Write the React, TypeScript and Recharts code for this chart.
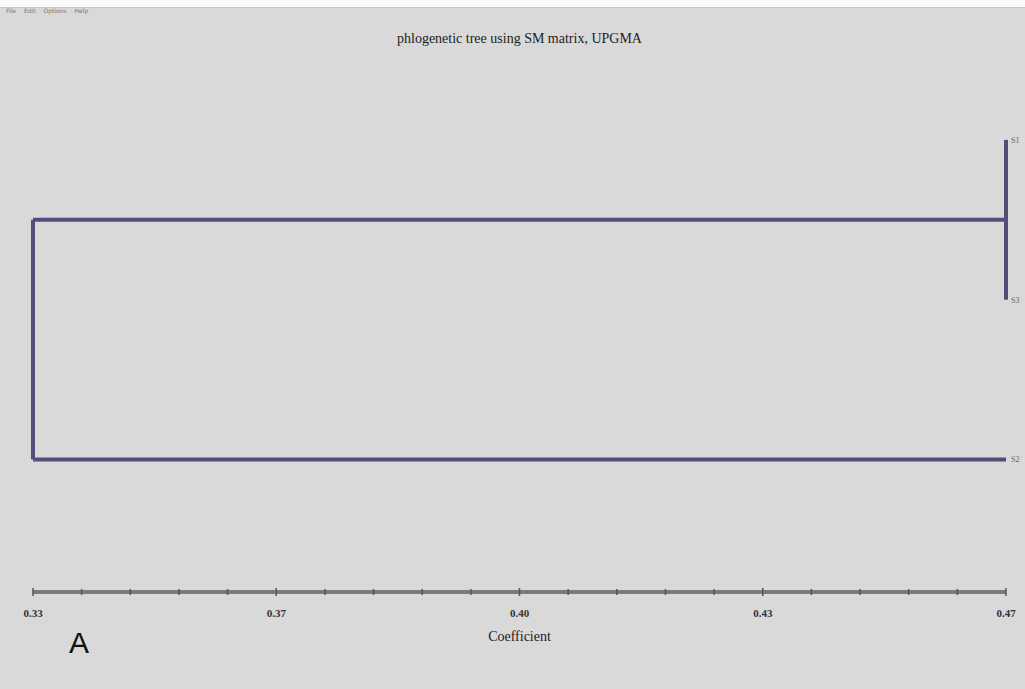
import {
  ComposedChart,
  Line,
  Scatter,
  XAxis,
  YAxis,
  Label,
} from 'recharts'

// leaves, top to bottom, and where each sits on the coefficient axis
const leafNames = ['S1', 'S3', 'S2']
const leafRows = [1, 2, 3]
const leafCoef = 0.47

// merges: (S1,S3) at 0.47, then with S2 at 0.33
const cladeCoef = 0.47
const rootCoef = 0.33

const majorTicks = [0.33, 0.365, 0.4, 0.435, 0.47]
const majorLabels = ['0.33', '0.37', '0.40', '0.43', '0.47']

const minorTicks = Array.from({ length: 21 }, (_, i) => +(0.33 + i * 0.007).toFixed(3))

const cladeMid = (leafRows[0] + leafRows[1]) / 2

const cladeVertical = [
  { x: cladeCoef, y: leafRows[0] },
  { x: cladeCoef, y: leafRows[1] },
]
const cladeStem = [
  { x: cladeCoef, y: cladeMid },
  { x: rootCoef, y: cladeMid },
]
const s2Stem = [
  { x: leafCoef, y: leafRows[2] },
  { x: rootCoef, y: leafRows[2] },
]
const rootVertical = [
  { x: rootCoef, y: cladeMid },
  { x: rootCoef, y: leafRows[2] },
]
const leafPoints = leafNames.map((name, i) => ({ x: leafCoef, y: leafRows[i], name }))

const branchColor = '#574b7d'

function AxisTick(props: any) {
  const { x, y, payload } = props
  const idx = majorTicks.findIndex((t) => Math.abs(t - payload.value) < 1e-6)
  const major = idx >= 0
  return (
    <g>
      <line x1={x} x2={x} y1={y - (major ? 4 : 3)} y2={y + (major ? 4 : 3)} stroke="#555" strokeWidth={1.5} />
      {major && (
        <text
          x={x}
          y={y + 25}
          textAnchor="middle"
          fontFamily="'Liberation Serif', serif"
          fontSize={11}
          fontWeight="bold"
          fill="#333"
        >
          {majorLabels[idx]}
        </text>
      )}
    </g>
  )
}

function LeafLabel(props: any) {
  const { cx, cy, payload } = props
  return (
    <text
      x={cx + 5}
      y={cy + 3}
      fontFamily="'Liberation Serif', serif"
      fontSize={8}
      fill="#666"
    >
      {payload.name}
    </text>
  )
}

export default function App() {
  return (
    <div
      style={{
        position: 'fixed',
        left: 0,
        top: 0,
        width: 1025,
        height: 689,
        background: '#d9d9d9',
        overflow: 'hidden',
      }}
    >
      <div style={{ position: 'absolute', left: 0, top: 0, width: 1025, height: 7, background: '#fafafa', borderBottom: '1px solid #c8c8c8' }} />
      <div
        style={{
          position: 'absolute',
          left: 6,
          top: 7,
          fontFamily: "'DejaVu Sans', sans-serif",
          fontSize: 6,
          color: '#777',
          wordSpacing: 6,
        }}
      >
        File Edit Options Help
      </div>
      <div
        style={{
          position: 'absolute',
          left: 0,
          width: 1025,
          top: 31,
          textAlign: 'center',
          fontFamily: "'Liberation Serif', serif",
          fontSize: 14,
          color: '#222',
          paddingLeft: 14,
          boxSizing: 'border-box',
        }}
      >
        phlogenetic tree using SM matrix, UPGMA
      </div>
      <div
        style={{
          position: 'absolute',
          left: 69,
          top: 626,
          fontFamily: "'Liberation Sans', Arial, sans-serif",
          fontSize: 30,
          color: '#111',
        }}
      >
        A
      </div>
      <ComposedChart
        width={1025}
        height={689}
        margin={{ top: 60, right: 19, left: 33, bottom: 47 }}
        style={{ position: 'absolute', left: 0, top: 0 }}
      >
        <XAxis
          type="number"
          dataKey="x"
          domain={[0.33, 0.47]}
          ticks={minorTicks}
          interval={0}
          axisLine={{ stroke: '#7a7a7a', strokeWidth: 4 }}
          tickLine={false}
          tickSize={0}
          tickMargin={0}
          tick={<AxisTick />}
          height={50}
        >
          <Label
            value="Coefficient"
            position="insideBottom"
            offset={1}
            fontFamily="'Liberation Serif', serif"
            fontSize={14}
            fill="#222"
          />
        </XAxis>
        <YAxis type="number" dataKey="y" domain={[0.5, 3.83]} reversed hide />
        <Line data={cladeVertical} dataKey="y" type="linear" stroke={branchColor} strokeWidth={4} dot={false} isAnimationActive={false} />
        <Line data={cladeStem} dataKey="y" type="linear" stroke={branchColor} strokeWidth={4} dot={false} isAnimationActive={false} />
        <Line data={s2Stem} dataKey="y" type="linear" stroke={branchColor} strokeWidth={4} dot={false} isAnimationActive={false} />
        <Line data={rootVertical} dataKey="y" type="linear" stroke={branchColor} strokeWidth={4} dot={false} isAnimationActive={false} />
        <Scatter data={leafPoints} dataKey="y" shape={<LeafLabel />} isAnimationActive={false} />
      </ComposedChart>
    </div>
  )
}
